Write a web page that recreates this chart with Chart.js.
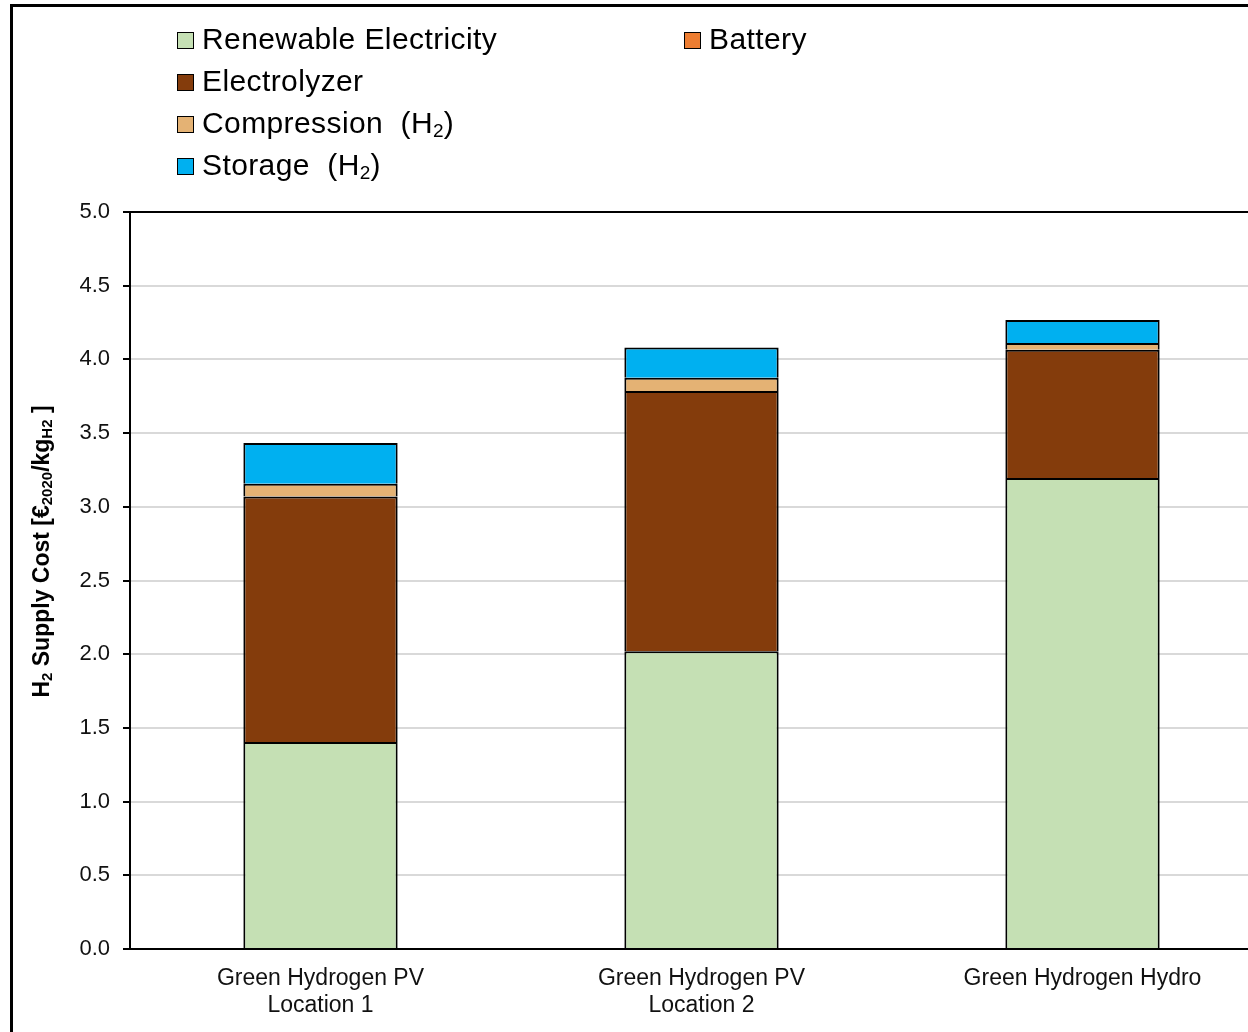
<!DOCTYPE html>
<html>
<head>
<meta charset="utf-8">
<script src="https://cdn.jsdelivr.net/npm/chart.js@4.4.1/dist/chart.umd.min.js"></script>
<style>
  html, body { margin: 0; padding: 0; background: #fff; overflow: hidden; }
  body { width: 1248px; height: 1032px; position: relative; font-family: Arial, "Liberation Sans", sans-serif; }
  #wrap { position: absolute; left: 0; top: 0; width: 1300px; height: 1032px; }
  #frame { position: absolute; left: 10px; top: 4px; width: 1300px; height: 1100px;
           border-left: 3px solid #000; border-top: 3px solid #000; pointer-events: none; }
  .leg { position: absolute; height: 42px; line-height: 42px; font-size: 30px; letter-spacing: 0.4px; color: #000; white-space: nowrap; }
  .leg .box { position: absolute; left: 0; top: 14px; width: 15px; height: 15px; border: 1.5px solid #000; }
  .leg .txt { position: absolute; left: 25px; top: 0; }
  .leg sub { font-size: 19px; vertical-align: -4px; line-height: 0; letter-spacing: 0; }
</style>
</head>
<body>
<div id="wrap"><canvas id="canvas"></canvas></div>
<div id="frame"></div>
<div id="legend"></div>
<script>
/* data */
const categorii = [['Green Hydrogen PV', 'Location 1'], ['Green Hydrogen PV', 'Location 2'], 'Green Hydrogen Hydro'];
const renewable = [1.405, 2.02, 3.195];
const battery = [0, 0, 0];
const electrolyzer = [1.665, 1.765, 0.87];
const compression = [0.087, 0.09, 0.047];
const storage = [0.275, 0.205, 0.156];
const yTicks = [0, 0.5, 1.0, 1.5, 2.0, 2.5, 3.0, 3.5, 4.0, 4.5, 5.0];

Chart.defaults.font.family = 'Arial, "Liberation Sans", sans-serif';

/* titlu axa y cu indici */
const yTitlePlugin = {
  id: 'yTitle',
  afterDraw(chart) {
    const ctx = chart.ctx;
    const big = 'bold 23px Arial, "Liberation Sans", sans-serif';
    const small = 'bold 15px Arial, "Liberation Sans", sans-serif';
    const parts = [
      ['H', big, 0], ['2', small, 5], [' Supply Cost [€', big, 0], ['2020', small, 5],
      ['/kg', big, 0], ['H2', small, 5], [' ]', big, 0]
    ];
    ctx.save();
    let total = 0;
    parts.forEach(p => { ctx.font = p[1]; total += ctx.measureText(p[0]).width; });
    const cy = (chart.chartArea.top + chart.chartArea.bottom) / 2 - 29;
    ctx.translate(43, cy);
    ctx.rotate(-Math.PI / 2);
    ctx.fillStyle = '#000';
    ctx.textBaseline = 'middle';
    let x = -total / 2;
    parts.forEach(p => {
      ctx.font = p[1];
      ctx.fillText(p[0], x, p[2]);
      x += ctx.measureText(p[0]).width;
    });
    ctx.restore();
  }
};

const ctx = document.getElementById('canvas');
const chart = new Chart(ctx, {
  type: 'bar',
  data: {
    labels: categorii,
    datasets: [
      { label: 'Renewable Electricity', data: renewable, backgroundColor: '#C5E0B4' },
      { label: 'Battery', data: battery, backgroundColor: '#ED7D31' },
      { label: 'Electrolyzer', data: electrolyzer, backgroundColor: '#843C0C' },
      { label: 'Compression  (H2)', data: compression, backgroundColor: '#E4B274' },
      { label: 'Storage  (H2)', data: storage, backgroundColor: '#00B0F0' }
    ]
  },
  options: {
    responsive: true,
    maintainAspectRatio: false,
    animation: false,
    devicePixelRatio: 1,
    layout: { padding: { top: 212, right: 27, bottom: 0, left: 0 } },
    datasets: {
      bar: { borderColor: '#000', borderWidth: 2, categoryPercentage: 1, barPercentage: 0.405 }
    },
    plugins: {
      legend: { display: false },
      tooltip: { enabled: false }
    },
    scales: {
      x: {
        stacked: true,
        grid: { display: false, drawTicks: false },
        border: { color: '#000', width: 2 },
        ticks: { color: '#111', padding: 16, maxRotation: 0, font: { size: 23, lineHeight: 1.17 } },
        afterFit: s => { s.height = 83; }
      },
      y: {
        stacked: true,
        min: 0,
        max: 5,
        afterBuildTicks: s => { s.ticks = yTicks.map(v => ({ value: v })); },
        grid: {
          color: c => (c.tick && c.tick.value === 5) ? '#000' : '#d9d9d9',
          lineWidth: 2,
          tickColor: '#000',
          tickLength: 7
        },
        border: { color: '#000', width: 2 },
        ticks: { color: '#111', padding: 13, font: { size: 22 }, callback: v => Number(v).toFixed(1) },
        afterFit: s => { s.width = 130; }
      }
    }
  },
  plugins: [yTitlePlugin]
});

/* legenda html */
const pozitii = [[177, 18], [684, 18], [177, 60], [177, 102], [177, 144]];
const legend = document.getElementById('legend');
chart.data.datasets.forEach((ds, i) => {
  const el = document.createElement('div');
  el.className = 'leg';
  el.style.left = pozitii[i][0] + 'px';
  el.style.top = pozitii[i][1] + 'px';
  const txt = ds.label.replace(/ /g, '&nbsp;').replace('(H2)', '(H<sub>2</sub>)');
  el.innerHTML = '<span class="box" style="background:' + ds.backgroundColor + '"></span><span class="txt">' + txt + '</span>';
  legend.appendChild(el);
});
</script>
</body>
</html>
